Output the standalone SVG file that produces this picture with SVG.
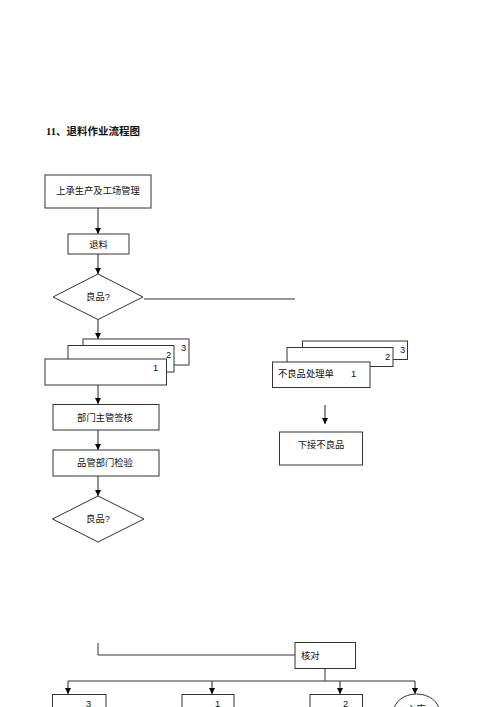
<svg xmlns="http://www.w3.org/2000/svg" width="500" height="707" viewBox="0 0 500 707">
<defs>
<marker id="ah" viewBox="0 0 10 10" refX="10" refY="5" markerWidth="6" markerHeight="6" markerUnits="userSpaceOnUse" orient="auto">
<path d="M0,0 L10,5 L0,10 Z" fill="#000"/>
</marker>
<style>
.box{fill:#fff;stroke:#333;stroke-width:1}
.ln{fill:none;stroke:#333;stroke-width:1}
.ar{fill:none;stroke:#222;stroke-width:1;marker-end:url(#ah)}
.t{font-family:"Liberation Sans","Noto Sans CJK SC",sans-serif;font-size:9.3px;fill:#111}
.c{text-anchor:middle}
.title{font-family:"Liberation Serif","Noto Sans CJK SC",serif;font-size:10.5px;font-weight:bold;fill:#111}
</style>
</defs>
<rect width="500" height="707" fill="#fff"/>
<text class="title" x="46" y="135">11<tspan font-family="Noto Sans CJK SC, sans-serif">、退料作业流程图</tspan></text>

<g id="connectors">
<line class="ar" x1="98" y1="208" x2="98" y2="234"/>
<line class="ar" x1="98" y1="254" x2="98" y2="274"/>
<line class="ln" x1="144" y1="299" x2="295" y2="299"/>
<line class="ar" x1="98" y1="319" x2="98" y2="339"/>
<line class="ar" x1="98" y1="385" x2="98" y2="404"/>
<line class="ar" x1="98" y1="430" x2="98" y2="450"/>
<line class="ar" x1="98" y1="476" x2="98" y2="496"/>
<line class="ar" x1="325" y1="405" x2="325" y2="424"/>
<polyline class="ln" points="98,643 98,655 295,655"/>
<line class="ln" x1="325" y1="668" x2="325" y2="681"/>
<line class="ln" x1="68" y1="681" x2="415" y2="681"/>
<line class="ar" x1="68" y1="681" x2="68" y2="694"/>
<line class="ar" x1="212" y1="681" x2="212" y2="694"/>
<line class="ar" x1="340" y1="681" x2="340" y2="694"/>
<line class="ar" x1="415" y1="681" x2="415" y2="694"/>
</g>

<g id="n-start">
<rect class="box" x="45" y="175" width="106" height="33"/>
<text class="t c" x="98" y="194">上承生产及工场管理</text>
</g>
<g id="n-tuiliao">
<rect class="box" x="68" y="234" width="61" height="20"/>
<text class="t c" x="98.5" y="247.5">退料</text>
</g>
<g id="n-good1">
<polygon class="box" points="98,274 143,297 98,319.5 53,297"/>
<text class="t c" x="98" y="300">良品?</text>
</g>
<g id="n-stack1">
<rect class="box" x="83" y="339" width="106" height="26"/>
<text class="t" x="181" y="351">3</text>
<rect class="box" x="68" y="345.5" width="106" height="26.5"/>
<text class="t" x="166" y="358">2</text>
<rect class="box" x="45" y="359" width="121.5" height="26"/>
<text class="t" x="153" y="371">1</text>
</g>
<g id="n-stack2">
<rect class="box" x="302.5" y="341" width="105" height="18.5"/>
<text class="t" x="400" y="352.5">3</text>
<rect class="box" x="287" y="347.5" width="106" height="19"/>
<text class="t" x="385" y="359.5">2</text>
<rect class="box" x="272.5" y="362" width="97.5" height="25.5"/>
<text class="t" x="278" y="377">不良品处理单</text>
<text class="t" x="351" y="377">1</text>
</g>
<g id="n-xiajie">
<rect class="box" x="279.5" y="432" width="83" height="33"/>
<text class="t c" x="321" y="448">下接不良品</text>
</g>
<g id="n-bumen">
<rect class="box" x="53" y="404.5" width="106" height="25.5"/>
<text class="t c" x="105" y="420.5">部门主管签核</text>
</g>
<g id="n-pinguan">
<rect class="box" x="53" y="450" width="106" height="26"/>
<text class="t c" x="105" y="466">品管部门检验</text>
</g>
<g id="n-good2">
<polygon class="box" points="98,496 144,519 98,542 52.5,519"/>
<text class="t c" x="98" y="522">良品?</text>
</g>
<g id="n-hedui">
<rect class="box" x="295" y="642.5" width="60.5" height="26"/>
<text class="t" x="301" y="659">核对</text>
</g>
<g id="n-out3">
<rect class="box" x="52.5" y="694.5" width="53.5" height="20"/>
<text class="t" x="86" y="707">3</text>
</g>
<g id="n-out1">
<rect class="box" x="182" y="694.5" width="52" height="20"/>
<text class="t" x="215" y="707">1</text>
</g>
<g id="n-out2">
<rect class="box" x="310" y="694.5" width="52.5" height="20"/>
<text class="t" x="343" y="707">2</text>
</g>
<g id="n-end">
<ellipse class="box" cx="416.5" cy="712" rx="23" ry="18"/>
<text class="t c" x="416.5" y="712">入库</text>
</g>
</svg>
